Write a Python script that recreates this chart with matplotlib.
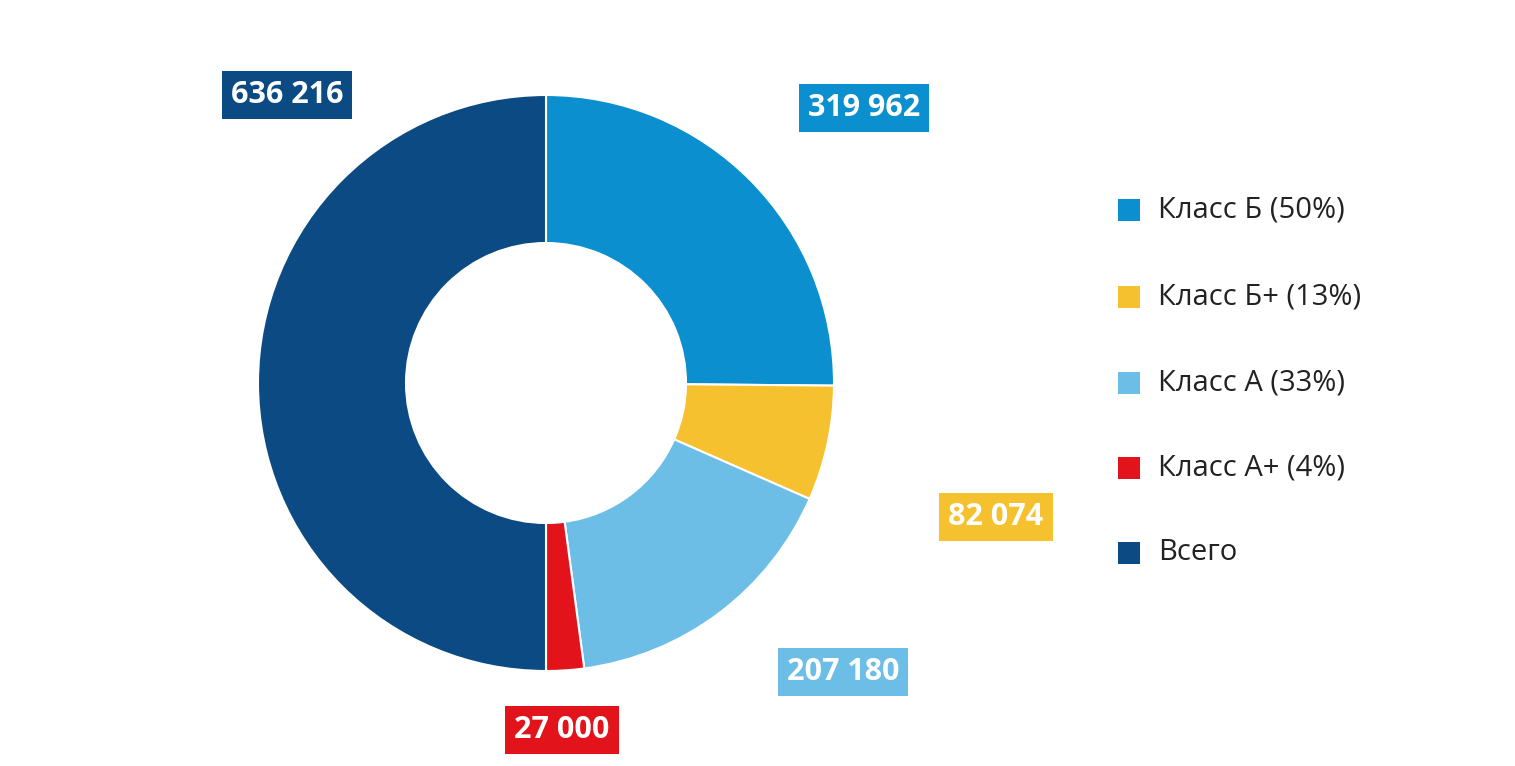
import matplotlib
matplotlib.use("Agg")
import matplotlib.pyplot as plt

plt.rcParams['font.family'] = ['Open Sans', 'DejaVu Sans']

categories = ["Класс Б (50%)", "Класс Б+ (13%)", "Класс А (33%)", "Класс А+ (4%)", "Всего"]
values = [319962, 82074, 207180, 27000, 636216]
labels = ["319 962", "82 074", "207 180", "27 000", "636 216"]
colors = ["#0b8fcf", "#f6c12e", "#6dbee6", "#e3131b", "#0b4a82"]
label_pos = [(864, 108), (996, 517), (843, 672), (562, 730), (287, 95)]

W, H = 1515, 766
fig = plt.figure(figsize=(W/100, H/100), dpi=100)
ax = fig.add_axes([0, 0, 1, 1])
ax.set_xlim(0, W)
ax.set_ylim(0, H)
ax.axis('off')

ax.pie(values, colors=colors, startangle=90, counterclock=False,
       center=(546, H-383), radius=288, frame=True,
       wedgeprops=dict(width=148, edgecolor='white', linewidth=1.5))
ax.set_xlim(0, W); ax.set_ylim(0, H); ax.axis('off')

for lab, (x, y), c in zip(labels, label_pos, colors):
    ax.text(x, H-y, lab, ha='center', va='center', color='white', fontsize=22,
            fontweight='bold',
            bbox=dict(boxstyle='square,pad=0.3', facecolor=c, edgecolor='none'))

leg_y = [210, 297, 383, 468, 553]
for cat, c, y in zip(categories, colors, leg_y):
    ax.add_patch(plt.Rectangle((1118, H-y-11), 22, 22, facecolor=c, edgecolor='none'))
    ax.text(1158, H-y, cat, ha='left', va='center', fontsize=21, color='#222222')

fig.savefig("out.png", dpi=100)
